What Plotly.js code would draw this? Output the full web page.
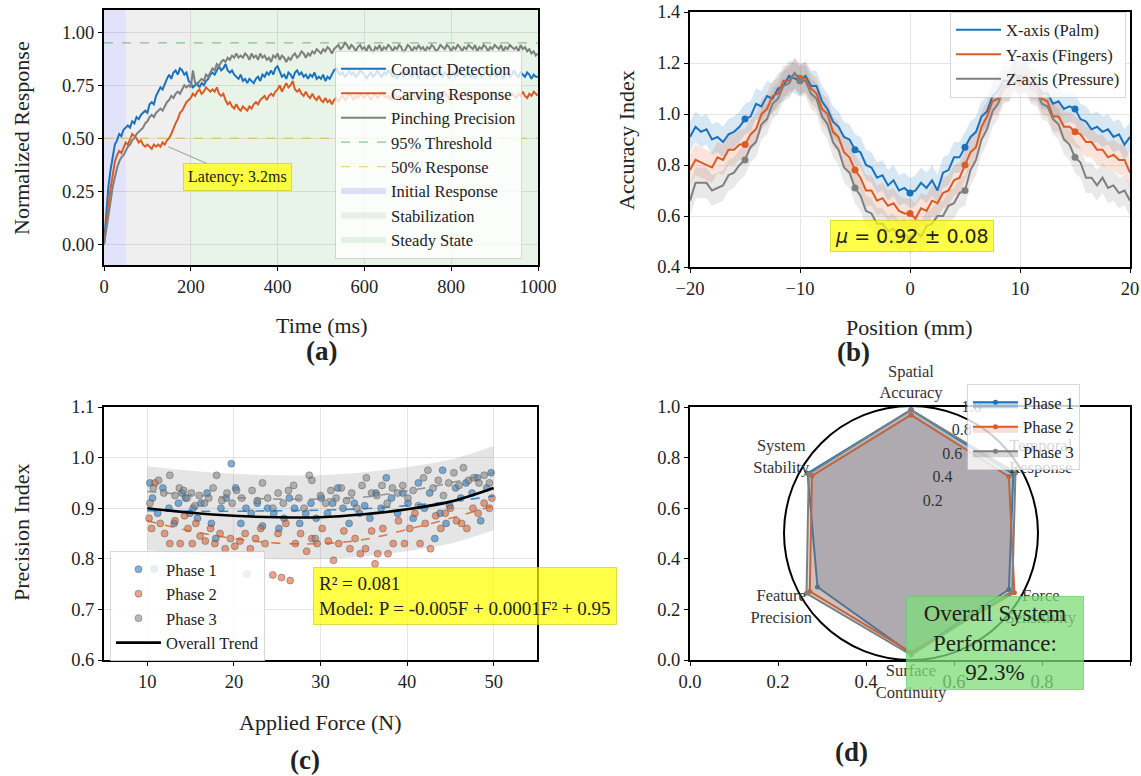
<!DOCTYPE html>
<html><head><meta charset="utf-8">
<script src="https://cdn.plot.ly/plotly-3.0.1.min.js"></script>
<style>html,body{margin:0;padding:0;background:#fff}</style>
</head><body><div id="chart" style="width:1141px;height:776px"></div>
<script>
// ================= DATA =================
// (a) response over time
const timeStepMs = 5;
const contactDetection = [
0.00,0.16,0.27,0.35,0.42,0.47,0.49,0.52,0.51,0.54,
0.55,0.56,0.55,0.58,0.57,0.60,0.59,0.61,0.62,0.63,
0.62,0.66,0.67,0.66,0.70,0.72,0.74,0.73,0.76,0.78,
0.80,0.78,0.81,0.82,0.80,0.83,0.82,0.80,0.81,0.77,
0.76,0.74,0.75,0.76,0.74,0.76,0.75,0.77,0.78,0.80,
0.81,0.80,0.82,0.84,0.82,0.83,0.85,0.82,0.81,0.82,
0.80,0.79,0.78,0.80,0.77,0.78,0.76,0.78,0.77,0.76,
0.78,0.79,0.77,0.80,0.79,0.81,0.80,0.82,0.80,0.83,
0.84,0.81,0.79,0.80,0.78,0.81,0.80,0.78,0.81,0.82,
0.80,0.81,0.79,0.80,0.78,0.80,0.79,0.81,0.78,0.79,
0.78,0.80,0.77,0.79,0.78,0.80,0.82,0.83,0.81,0.80,
0.81,0.79,0.80,0.82,0.80,0.81,0.79,0.80,0.82,0.81,
0.80,0.78,0.80,0.81,0.79,0.80,0.82,0.80,0.79,0.81,
0.80,0.82,0.81,0.79,0.80,0.78,0.80,0.81,0.79,0.80,
0.82,0.80,0.79,0.81,0.80,0.78,0.80,0.82,0.81,0.79,
0.80,0.81,0.79,0.80,0.82,0.80,0.79,0.81,0.80,0.78,
0.80,0.81,0.79,0.80,0.82,0.81,0.79,0.80,0.81,0.79,
0.80,0.78,0.80,0.81,0.79,0.80,0.82,0.80,0.79,0.81,
0.80,0.79,0.81,0.80,0.78,0.80,0.81,0.79,0.80,0.82,
0.80,0.79,0.81,0.80,0.79,0.81,0.80,0.78,0.80,0.79,
0.79];
const carvingResponse = [
0.00,0.10,0.18,0.26,0.33,0.39,0.42,0.44,0.43,0.46,
0.48,0.47,0.50,0.52,0.51,0.50,0.48,0.49,0.47,0.46,
0.47,0.46,0.45,0.47,0.46,0.47,0.46,0.48,0.47,0.49,
0.50,0.52,0.55,0.57,0.59,0.62,0.63,0.65,0.67,0.68,
0.69,0.71,0.70,0.72,0.73,0.71,0.72,0.74,0.73,0.72,
0.73,0.72,0.74,0.71,0.70,0.71,0.68,0.66,0.67,0.65,
0.64,0.66,0.64,0.63,0.65,0.64,0.63,0.65,0.64,0.66,
0.67,0.66,0.68,0.69,0.70,0.68,0.70,0.71,0.70,0.72,
0.73,0.75,0.72,0.74,0.76,0.74,0.75,0.77,0.73,0.72,
0.73,0.71,0.70,0.72,0.70,0.69,0.71,0.69,0.68,0.70,
0.68,0.67,0.69,0.67,0.68,0.66,0.68,0.69,0.67,0.69,
0.70,0.68,0.69,0.71,0.70,0.68,0.70,0.69,0.71,0.70,
0.69,0.71,0.70,0.68,0.70,0.71,0.69,0.70,0.72,0.70,
0.69,0.70,0.68,0.70,0.71,0.69,0.70,0.68,0.70,0.71,
0.70,0.69,0.71,0.70,0.68,0.70,0.69,0.71,0.70,0.69,
0.71,0.70,0.68,0.70,0.69,0.71,0.70,0.72,0.70,0.69,
0.70,0.68,0.70,0.71,0.69,0.70,0.72,0.70,0.69,0.71,
0.70,0.69,0.71,0.70,0.68,0.70,0.71,0.69,0.70,0.72,
0.70,0.69,0.70,0.71,0.69,0.70,0.68,0.70,0.71,0.70,
0.69,0.71,0.70,0.72,0.70,0.69,0.71,0.70,0.72,0.71,
0.70];
const pinchingPrecision = [
0.00,0.06,0.13,0.20,0.27,0.32,0.36,0.39,0.41,0.42,
0.44,0.46,0.47,0.49,0.50,0.52,0.53,0.54,0.55,0.57,
0.58,0.60,0.61,0.60,0.62,0.63,0.64,0.63,0.65,0.67,
0.68,0.70,0.69,0.71,0.72,0.71,0.73,0.75,0.74,0.75,
0.74,0.82,0.76,0.75,0.77,0.78,0.77,0.80,0.79,0.81,
0.83,0.82,0.85,0.84,0.86,0.87,0.86,0.88,0.87,0.89,
0.88,0.90,0.88,0.89,0.88,0.90,0.89,0.87,0.90,0.88,
0.89,0.87,0.90,0.88,0.89,0.87,0.88,0.86,0.89,0.88,
0.90,0.87,0.89,0.88,0.86,0.88,0.87,0.89,0.90,0.88,
0.89,0.91,0.90,0.88,0.90,0.89,0.91,0.90,0.92,0.91,
0.90,0.92,0.91,0.93,0.92,0.90,0.92,0.93,0.94,0.92,
0.93,0.95,0.94,0.92,0.94,0.93,0.91,0.93,0.94,0.92,
0.93,0.91,0.94,0.92,0.90,0.93,0.92,0.94,0.91,0.93,
0.92,0.94,0.93,0.91,0.93,0.92,0.94,0.93,0.90,0.92,
0.94,0.93,0.91,0.93,0.92,0.94,0.92,0.93,0.91,0.93,
0.92,0.94,0.93,0.91,0.92,0.94,0.93,0.92,0.94,0.93,
0.91,0.93,0.92,0.94,0.93,0.91,0.93,0.92,0.94,0.93,
0.92,0.94,0.91,0.93,0.92,0.94,0.93,0.91,0.93,0.92,
0.94,0.93,0.92,0.94,0.91,0.93,0.92,0.94,0.93,0.92,
0.93,0.91,0.94,0.92,0.93,0.91,0.92,0.90,0.91,0.89,
0.90];
const responseNames = ['Contact Detection','Carving Response','Pinching Precision'];
const thresholdLevels = [0.95, 0.50];
const thresholdNames = ['95% Threshold','50% Response'];
const phaseRegionNames = ['Initial Response','Stabilization','Steady State'];
const phaseRegionStartMs = [0, 50, 200];
const phaseRegionEndMs = [50, 200, 1000];
const latencyLabel = 'Latency: 3.2ms';
const latencyPointMs = 148, latencyPointValue = 0.46;

// (b) accuracy along position
const positionStartMm = -20, positionStepMm = 0.5;
const xAxisPalm = [
0.91,0.95,0.93,0.94,0.90,0.91,0.89,0.92,0.93,0.95,
0.98,0.99,1.04,1.03,1.07,1.06,1.10,1.11,1.15,1.14,
1.13,1.15,1.11,1.11,1.05,1.02,0.97,0.95,0.91,0.90,
0.86,0.85,0.80,0.79,0.75,0.76,0.72,0.74,0.70,0.71,
0.69,0.70,0.73,0.71,0.74,0.70,0.77,0.78,0.83,0.83,
0.87,0.91,0.93,0.99,1.01,1.07,1.09,1.13,1.13,1.16,
1.13,1.15,1.12,1.12,1.08,1.08,1.04,1.05,1.02,1.03,
1.02,0.98,0.97,0.94,0.95,0.93,0.94,0.91,0.92,0.88,
0.91];
const yAxisFingers = [
0.78,0.82,0.81,0.80,0.79,0.83,0.82,0.86,0.86,0.88,
0.88,0.92,0.94,1.00,1.02,1.07,1.08,1.13,1.13,1.16,
1.14,1.14,1.10,1.08,1.02,1.00,0.93,0.91,0.85,0.83,
0.78,0.75,0.70,0.70,0.66,0.67,0.64,0.65,0.62,0.61,
0.61,0.59,0.63,0.62,0.66,0.65,0.69,0.70,0.74,0.75,
0.80,0.85,0.87,0.95,0.99,1.05,1.06,1.11,1.11,1.15,
1.12,1.15,1.11,1.11,1.06,1.05,0.99,0.99,0.95,0.95,
0.93,0.92,0.89,0.89,0.86,0.86,0.83,0.84,0.82,0.82,
0.77];
const zAxisPressure = [
0.66,0.73,0.73,0.73,0.70,0.71,0.72,0.76,0.77,0.80,
0.82,0.87,0.89,0.96,0.98,1.04,1.06,1.11,1.12,1.16,
1.13,1.13,1.08,1.06,0.99,0.96,0.89,0.86,0.79,0.77,
0.71,0.68,0.62,0.61,0.57,0.57,0.54,0.55,0.52,0.53,
0.51,0.54,0.52,0.56,0.57,0.60,0.60,0.64,0.65,0.69,
0.70,0.78,0.82,0.90,0.94,1.01,1.04,1.10,1.11,1.15,
1.14,1.14,1.10,1.09,1.04,1.03,0.98,0.96,0.90,0.88,
0.83,0.81,0.75,0.75,0.72,0.75,0.71,0.72,0.69,0.70,
0.66];
const axisNames = ['X-axis (Palm)','Y-axis (Fingers)','Z-axis (Pressure)'];
const accuracyBandHalfWidth = 0.06;
const markerEveryMm = 5;
const meanLabel = '<i>μ</i> = 0.92 ± 0.08';

// (c) precision vs force
const phase1Force = [10.3,10.6,10.8,11.2,11.8,12.5,13.1,13.6,14.0,14.4,14.9,15.3,15.8,16.2,16.9,17.4,17.9,18.5,19.1,19.7,20.2,20.8,21.4,22.0,22.7,23.3,23.9,24.6,25.2,25.8,26.4,27.0,27.6,28.3,28.9,29.5,30.1,30.8,31.4,32.0,32.6,33.3,33.9,34.5,35.1,35.7,36.4,37.0,37.6,38.2,38.9,39.5,40.1,40.7,41.3,42.0,42.6,43.2,43.8,44.1,44.5,44.9,45.6,46.2,46.8,47.5,48.1,48.5,49.2,49.7];
const phase1Precision = [0.95,0.92,0.78,0.89,0.94,0.90,0.87,0.91,0.93,0.92,0.89,0.90,0.88,0.91,0.93,0.87,0.84,0.90,0.92,0.988,0.94,0.87,0.90,0.89,0.91,0.865,0.90,0.89,0.86,0.88,0.92,0.90,0.87,0.89,0.91,0.88,0.92,0.89,0.91,0.94,0.90,0.87,0.91,0.89,0.905,0.88,0.93,0.90,0.96,0.92,0.89,0.93,0.91,0.88,0.95,0.90,0.93,0.84,0.89,0.975,0.87,0.905,0.94,0.92,0.95,0.93,0.96,0.875,0.94,0.97];
const phase2Force = [10.2,10.5,10.9,11.5,12.0,12.6,13.2,13.8,14.3,14.7,15.2,15.6,16.1,16.7,17.3,17.8,18.4,19.0,19.6,20.1,20.7,21.3,21.9,22.5,23.1,23.6,24.5,25.1,25.5,26.0,26.5,27.1,27.7,28.4,29.0,29.6,30.2,30.9,31.5,32.1,32.7,33.4,34.0,34.6,35.2,35.9,36.3,36.6,37.2,37.8,38.4,39.0,39.7,40.3,40.9,41.5,42.1,42.7,43.3,43.9,44.4,45.0,45.7,46.3,46.9,47.6,48.2,48.9,49.5,49.8];
const phase2Precision = [0.88,0.86,0.95,0.87,0.85,0.83,0.875,0.83,0.885,0.86,0.83,0.87,0.845,0.835,0.86,0.83,0.85,0.82,0.84,0.825,0.835,0.85,0.82,0.84,0.86,0.83,0.768,0.85,0.763,0.87,0.757,0.83,0.85,0.815,0.84,0.83,0.86,0.835,0.797,0.83,0.855,0.82,0.84,0.81,0.82,0.855,0.79,0.81,0.86,0.81,0.83,0.875,0.83,0.86,0.89,0.83,0.87,0.82,0.885,0.86,0.89,0.90,0.875,0.87,0.86,0.90,0.89,0.91,0.90,0.92];
const phase3Force = [10.3,10.7,11.3,11.9,12.6,13.2,13.7,14.2,14.6,15.1,15.5,16.0,16.6,17.1,17.6,18.0,18.6,19.2,19.8,20.3,20.9,21.5,22.1,22.7,23.3,23.9,24.5,25.1,25.7,26.3,26.9,27.5,28.1,28.7,29.0,29.4,30.0,30.6,31.2,31.8,32.4,33.0,33.6,34.2,34.8,35.3,35.9,36.5,37.1,37.7,38.3,38.9,39.5,40.1,40.7,41.3,41.9,42.4,43.0,43.6,44.2,44.8,45.4,46.0,46.5,47.1,47.7,48.3,48.9,49.5];
const phase3Precision = [0.91,0.94,0.955,0.93,0.965,0.925,0.94,0.935,0.92,0.93,0.905,0.925,0.91,0.92,0.94,0.965,0.915,0.93,0.91,0.935,0.92,0.77,0.935,0.915,0.95,0.92,0.90,0.93,0.91,0.935,0.945,0.92,0.90,0.965,0.955,0.84,0.925,0.91,0.935,0.92,0.94,0.915,0.93,0.90,0.945,0.96,0.93,0.925,0.945,0.91,0.94,0.93,0.945,0.92,0.935,0.905,0.96,0.975,0.94,0.955,0.925,0.95,0.97,0.945,0.98,0.955,0.96,0.95,0.965,0.95];
const trendForce = [10,15,20,25,30,35,40,45,50];
const overallTrend = [0.900,0.891,0.885,0.882,0.882,0.888,0.898,0.913,0.940];
const phase1Trend = [0.895,0.894,0.894,0.895,0.896,0.899,0.905,0.913,0.924];
const phase2Trend = [0.875,0.855,0.840,0.831,0.830,0.838,0.858,0.880,0.905];
const phase3Trend = [0.933,0.926,0.921,0.918,0.918,0.922,0.934,0.950,0.970];
const trendBandHalfWidth = 0.083;
const phaseNames = ['Phase 1','Phase 2','Phase 3'];
const modelLabel = 'R² = 0.081<br>Model: P = -0.005F + 0.0001F² + 0.95';

// (d) radar
const radarCategories = ['Spatial<br>Accuracy','Temporal<br>Response','Force<br>Sensitivity','Surface<br>Continuity','Feature<br>Precision','System<br>Stability'];
const radarPhase1 = [0.97,0.93,0.89,0.95,0.85,0.94];
const radarPhase2 = [0.93,0.89,0.94,0.94,0.92,0.90];
const radarPhase3 = [0.97,0.95,0.92,0.96,0.95,0.93];
const radarTickValues = [0.2,0.4,0.6,0.8,1.0];
const performanceLabel = 'Overall System<br>Performance:<br>92.3%';

// ================= STYLE / LAYOUT =================
const W = 1141, H = 776;
const px = v => v / W, py = v => 1 - v / H;
const SERIF = 'Liberation Serif, Times New Roman, serif';
const BLUE = '#1a72bd', ORANGE = '#dc5a24', GRAY = '#7f7f7f';
const seriesColors = [BLUE, ORANGE, GRAY];
const radarFillAlpha = [0.28, 0.20, 0.30];
const rgba = (hex, a) => {
  const n = parseInt(hex.slice(1), 16);
  return `rgba(${(n>>16)&255},${(n>>8)&255},${n&255},${a})`;
};

const traces = [];

// ---- (a)
const timeMs = contactDetection.map((_, i) => i * timeStepMs);
const yRangeA = [-0.098, 1.105];
const regionColors = ['rgba(110,110,235,0.20)','rgba(175,175,175,0.20)','rgba(120,190,120,0.17)'];
phaseRegionNames.forEach((nm, i) => {
  const s = phaseRegionStartMs[i], e = phaseRegionEndMs[i];
  traces.push({type:'scatter', mode:'none', x:[s,e,e,s,s], y:[yRangeA[0],yRangeA[0],yRangeA[1],yRangeA[1],yRangeA[0]],
    fill:'toself', fillcolor:regionColors[i], name:nm, legend:'legend', legendrank:6+i, hoverinfo:'skip', xaxis:'x', yaxis:'y'});
});
[contactDetection, carvingResponse, pinchingPrecision].forEach((ser, i) => {
  traces.push({type:'scatter', mode:'lines', x:timeMs, y:ser, name:responseNames[i],
    line:{color:seriesColors[i], width:2}, legend:'legend', legendrank:1+i, xaxis:'x', yaxis:'y'});
});
const thresholdColors = ['rgba(70,160,70,0.6)','rgba(225,185,50,0.6)'];
thresholdLevels.forEach((lv, i) => {
  traces.push({type:'scatter', mode:'lines', x:[0, timeMs[timeMs.length-1]], y:[lv, lv], name:thresholdNames[i],
    line:{color:thresholdColors[i], width:1.3, dash:'dash'}, legend:'legend', legendrank:4+i, xaxis:'x', yaxis:'y'});
});

// ---- (b)
const positionMm = xAxisPalm.map((_, i) => positionStartMm + i * positionStepMm);
const markEvery = Math.round(markerEveryMm / positionStepMm);
[xAxisPalm, yAxisFingers, zAxisPressure].forEach((ser, i) => {
  const up = ser.map(v => v + accuracyBandHalfWidth);
  const lo = ser.map(v => v - accuracyBandHalfWidth);
  traces.push({type:'scatter', mode:'none', x:positionMm.concat(positionMm.slice().reverse()),
    y:up.concat(lo.slice().reverse()), fill:'toself', fillcolor:rgba(seriesColors[i],0.17),
    showlegend:false, hoverinfo:'skip', xaxis:'x2', yaxis:'y2'});
});
[xAxisPalm, yAxisFingers, zAxisPressure].forEach((ser, i) => {
  traces.push({type:'scatter', mode:'lines', x:positionMm, y:ser, name:axisNames[i],
    line:{color:seriesColors[i], width:2}, legend:'legend2', xaxis:'x2', yaxis:'y2'});
  const idx = ser.map((_, k) => k).filter(k => k % markEvery === 0 && k > 0 && k < ser.length - 1);
  traces.push({type:'scatter', mode:'markers', x:idx.map(k => positionMm[k]), y:idx.map(k => ser[k]),
    marker:{color:seriesColors[i], size:7}, showlegend:false, xaxis:'x2', yaxis:'y2'});
});

// ---- (c)
const bandUp = overallTrend.map(v => v + trendBandHalfWidth);
const bandLo = overallTrend.map(v => v - trendBandHalfWidth);
traces.push({type:'scatter', mode:'lines', x:trendForce, y:bandUp, line:{width:0, shape:'spline'}, showlegend:false, hoverinfo:'skip', xaxis:'x3', yaxis:'y3'});
traces.push({type:'scatter', mode:'lines', x:trendForce, y:bandLo, line:{width:0, shape:'spline'}, fill:'tonexty',
  fillcolor:'rgba(150,150,150,0.25)', showlegend:false, hoverinfo:'skip', xaxis:'x3', yaxis:'y3'});
[[phase1Force, phase1Precision],[phase2Force, phase2Precision],[phase3Force, phase3Precision]].forEach((p, i) => {
  traces.push({type:'scatter', mode:'markers', x:p[0], y:p[1], name:phaseNames[i],
    marker:{color:rgba(seriesColors[i],0.55), size:7, line:{color:'rgba(70,70,70,0.5)', width:0.8}},
    legend:'legend3', xaxis:'x3', yaxis:'y3'});
});
[phase1Trend, phase2Trend, phase3Trend].forEach((t, i) => {
  traces.push({type:'scatter', mode:'lines', x:trendForce, y:t, line:{color:rgba(seriesColors[i],0.8), width:1.6, dash:'dash', shape:'spline'},
    showlegend:false, xaxis:'x3', yaxis:'y3'});
});
traces.push({type:'scatter', mode:'lines', x:trendForce, y:overallTrend, name:'Overall Trend',
  line:{color:'#000', width:2.6, shape:'spline'}, legend:'legend3', xaxis:'x3', yaxis:'y3'});

// ---- (d) cartesian placeholder + radar
traces.push({type:'scatter', x:[], y:[], showlegend:false, xaxis:'x4', yaxis:'y4'});
[radarPhase1, radarPhase2, radarPhase3].forEach((r, i) => {
  traces.push({type:'scatterpolar', r:r.concat([r[0]]), theta:radarCategories.concat([radarCategories[0]]),
    mode:'lines+markers', name:phaseNames[i], fill:'toself', fillcolor:rgba(seriesColors[i],radarFillAlpha[i]),
    line:{color:seriesColors[i], width:2}, marker:{color:seriesColors[i], size:5}, legend:'legend4', subplot:'polar'});
});
const polarCx = 911, polarCy = 533, polarR = 127;
const labelPolarRange = 1.3; // the label layer is a larger invisible polar with the same scale
// category labels (placed through a second, invisible polar subplot so they stay beneath legend & boxes)
const categoryLabelRadius = 1.18;
traces.push({type:'scatterpolar', mode:'text', subplot:'polar2', cliponaxis:false, showlegend:false,
  r:radarCategories.map(() => categoryLabelRadius), theta:radarCategories.map((_, i) => i * 360 / radarCategories.length),
  text:radarCategories, textposition:'middle center', textfont:{family:SERIF, size:16.5, color:'#333'}});
// radial tick labels drawn along the 67.5° direction, shifted as matplotlib does
const rlabelAngle = 67.5 * Math.PI / 180, rlabelShift = [12, 8];
const rl = radarTickValues.map(v => {
  const vx = v * polarR * Math.cos(rlabelAngle) + rlabelShift[0];
  const vy = v * polarR * Math.sin(rlabelAngle) + rlabelShift[1];
  return {r: Math.hypot(vx, vy) / polarR, th: 90 - Math.atan2(vy, vx) * 180 / Math.PI, t: v.toFixed(1)};
});
traces.push({type:'scatterpolar', mode:'text', subplot:'polar2', cliponaxis:false, showlegend:false,
  r:rl.map(d => d.r), theta:rl.map(d => d.th), text:rl.map(d => d.t), textposition:'middle center',
  textfont:{family:SERIF, size:16, color:'#333'}});

// axes
const tickFont = {family:SERIF, size:18.5, color:'#222'};
const axBase = {showline:true, mirror:true, linecolor:'#000', linewidth:2, ticks:'outside', ticklen:4, tickwidth:1,
  tickcolor:'#000', showgrid:true, gridcolor:'#e4e4e4', gridwidth:1, zeroline:false, tickfont:tickFont, fixedrange:true};
const dom = (a, b) => [a, b];
const A = {x0:104, x1:538, y0:10, y1:265};
const B = {x0:690, x1:1130, y0:12, y1:267};
const C = {x0:104, x1:537, y0:407, y1:660};
const D = {x0:690, x1:1130, y0:407, y1:660};

const legBase = {bgcolor:'rgba(255,255,255,0.8)', bordercolor:'rgba(200,200,200,0.7)', borderwidth:1,
  font:{family:SERIF, size:16.5, color:'#222'}, xanchor:'left', yanchor:'top', tracegroupgap:0, itemwidth:45};

const ann = [];
const txt = (x, y, text, size, opts) => ann.push(Object.assign({xref:'paper', yref:'paper', x:px(x), y:py(y), text,
  showarrow:false, xanchor:'center', yanchor:'middle', font:{family:SERIF, size, color:'#222'}}, opts || {}));
// axis titles
txt(321, 325, 'Time (ms)', 22);
txt(21, 138, 'Normalized Response', 22, {textangle:-90});
txt(910, 327, 'Position (mm)', 22);
txt(626, 140, 'Accuracy Index', 22, {textangle:-90});
txt(320, 722, 'Applied Force (N)', 22);
txt(21, 533, 'Precision Index', 22, {textangle:-90});
// panel labels
txt(321, 351, '<b>(a)</b>', 27);
txt(853, 352, '<b>(b)</b>', 27);
txt(305, 760, '<b>(c)</b>', 27);
txt(851, 752, '<b>(d)</b>', 27);
// latency
ann.push({xref:'x', yref:'y', x:latencyPointMs, y:latencyPointValue, ax:69, ay:30, text:latencyLabel, showarrow:true,
  arrowhead:0, arrowwidth:1, arrowcolor:'rgba(120,120,120,0.7)', bgcolor:'rgba(255,255,0,0.72)', bordercolor:'rgba(200,200,0,0.6)',
  borderwidth:1, borderpad:4, font:{family:SERIF, size:16, color:'#222'}});
// mu
txt(911.5, 235.5, meanLabel, 19, {font:{family:'DejaVu Sans', size:19, color:'#222'}, bgcolor:'rgba(255,255,0,0.72)',
  bordercolor:'rgba(200,200,0,0.6)', borderwidth:1, borderpad:4});
// model
txt(313, 596, modelLabel, 19, {xanchor:'left', align:'left', bgcolor:'rgba(255,255,0,0.72)', bordercolor:'rgba(200,200,0,0.6)',
  borderwidth:1, borderpad:5});
// performance box
txt(995, 642.5, performanceLabel, 23, {width:168, height:84, bgcolor:'rgba(125,220,120,0.75)', bordercolor:'rgba(110,200,110,0.7)', borderwidth:1, borderpad:4});

const polarDomain = {x:[px(polarCx-polarR), px(polarCx+polarR)], y:[py(polarCy+polarR), py(polarCy-polarR)]};
const RL = polarR * labelPolarRange;
const labelPolarDomain = {x:[px(polarCx-RL), px(polarCx+RL)], y:[py(polarCy+RL), py(polarCy-RL)]};

const layout = {
  width:W, height:H, margin:{l:0, r:0, t:0, b:0, pad:0}, paper_bgcolor:'#fff', plot_bgcolor:'#fff',
  font:{family:SERIF, color:'#222'}, hovermode:false,
  xaxis: Object.assign({}, axBase, {domain:dom(px(A.x0),px(A.x1)), anchor:'y', range:[0,1000], tickvals:[0,200,400,600,800,1000]}),
  yaxis: Object.assign({}, axBase, {domain:dom(py(A.y1),py(A.y0)), anchor:'x', range:yRangeA, tickvals:[0,0.25,0.5,0.75,1.0], tickformat:'.2f'}),
  xaxis2: Object.assign({}, axBase, {domain:dom(px(B.x0),px(B.x1)), anchor:'y2', range:[-20,20], tickvals:[-20,-10,0,10,20]}),
  yaxis2: Object.assign({}, axBase, {domain:dom(py(B.y1),py(B.y0)), anchor:'x2', range:[0.4,1.4], tickvals:[0.4,0.6,0.8,1.0,1.2,1.4], tickformat:'.1f'}),
  xaxis3: Object.assign({}, axBase, {domain:dom(px(C.x0),px(C.x1)), anchor:'y3', range:[5,55], tickvals:[10,20,30,40,50]}),
  yaxis3: Object.assign({}, axBase, {domain:dom(py(C.y1),py(C.y0)), anchor:'x3', range:[0.6,1.1], tickvals:[0.6,0.7,0.8,0.9,1.0,1.1], tickformat:'.1f'}),
  xaxis4: Object.assign({}, axBase, {domain:dom(px(D.x0),px(D.x1)), anchor:'y4', range:[0,1], tickvals:[0,0.2,0.4,0.6,0.8,1.0], tickformat:'.1f', showgrid:false}),
  yaxis4: Object.assign({}, axBase, {domain:dom(py(D.y1),py(D.y0)), anchor:'x4', range:[0,1], tickvals:[0,0.2,0.4,0.6,0.8,1.0], tickformat:'.1f', showgrid:false}),
  polar: {
    domain:polarDomain, bgcolor:'#fff',
    angularaxis:{type:'category', categoryarray:radarCategories, rotation:90, direction:'clockwise',
      showline:true, linecolor:'#000', linewidth:2, showgrid:false, ticks:'', showticklabels:false},
    radialaxis:{range:[0,1], showline:false, showgrid:false, ticks:'', showticklabels:false}
  },
  polar2: {
    domain:labelPolarDomain, bgcolor:'rgba(0,0,0,0)',
    angularaxis:{type:'linear', rotation:90, direction:'clockwise', showline:false, showgrid:false, ticks:'', showticklabels:false},
    radialaxis:{range:[0,labelPolarRange], showline:false, showgrid:false, ticks:'', showticklabels:false}
  },
  legend: Object.assign({}, legBase, {x:px(335), y:py(50.5), traceorder:'normal'}),
  legend2: Object.assign({}, legBase, {x:px(950), y:py(11.5)}),
  legend3: Object.assign({}, legBase, {x:px(110), y:py(551)}),
  legend4: Object.assign({}, legBase, {x:px(967), y:py(384)}),
  annotations: ann
};

Plotly.newPlot('chart', traces, layout, {displayModeBar:false, staticPlot:true});
</script></body></html>
